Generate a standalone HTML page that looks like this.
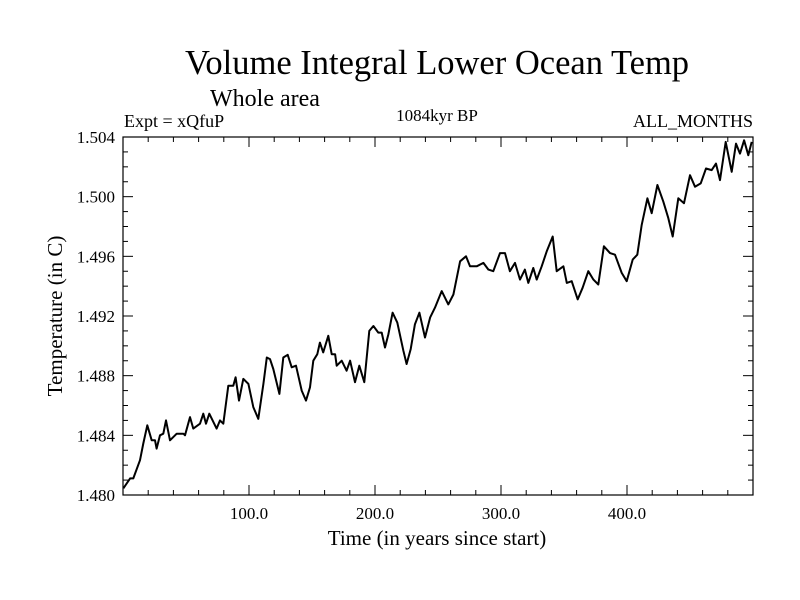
<!DOCTYPE html>
<html><head><meta charset="utf-8"><style>
body{margin:0;background:#fff}
svg{display:block;font-family:"Liberation Serif",serif}
</style></head><body>
<svg id="chart" width="800" height="600" viewBox="0 0 800 600">
<text x="437" y="74" font-size="34.5" text-anchor="middle">Volume Integral Lower Ocean Temp</text>
<text x="265" y="106" font-size="24" text-anchor="middle">Whole area</text>
<text x="124" y="127" font-size="18">Expt = xQfuP</text>
<text x="437" y="121" font-size="17" text-anchor="middle">1084kyr BP</text>
<text x="753" y="127" font-size="18" text-anchor="end">ALL_MONTHS</text>
<text x="437" y="545" font-size="21" text-anchor="middle">Time (in years since start)</text>
<text transform="translate(62,316) rotate(-90)" font-size="21" text-anchor="middle">Temperature (in C)</text>
<g id="axes"></g>
<path id="line" fill="none" stroke="#000" stroke-width="2" stroke-linejoin="round"/>
<rect x="123" y="137" width="630" height="358" fill="none" stroke="#000" stroke-width="1.2"/>
</svg>
<script>
const years=[0.3,5.6,8.2,13.5,16.1,19.3,22.8,25.4,26.7,29.4,32,34.1,37.3,42.6,47.9,49.2,53.2,55.8,61.1,63.7,65.9,68.5,74.3,77,79.6,83.6,87.5,89.4,92.1,95.5,99.5,103.4,107.4,111.4,114.1,116.7,119.3,124.1,127.2,130.7,133.9,137.3,141.8,145.2,148.4,151,154.2,156.3,158.9,162.9,165.6,168.3,169.6,173.6,177.5,180.2,184.1,187.5,191.5,195.5,198.7,202.6,205.3,207.9,210.6,214,217.7,222.5,225.1,228.3,231.7,235.2,239.7,243.7,247.6,252.9,258.2,262.2,267.5,272.2,275.4,280.7,286,290,293.9,299.2,303.2,307.1,311.1,315.1,319,321.7,325.6,328.3,332.3,336.3,341,344.2,349.5,352.2,356.1,360.9,364.8,369.3,373.3,377.2,381.7,386.5,390.5,395.8,399.8,404.5,408.2,411.7,416.2,419.6,424.1,428.8,432.8,436.3,440.7,445.2,450,454,458.5,462.7,467.2,470.6,473.8,478.3,483.1,486.5,489.7,492.9,496.3,499];
const temps=[1.48045,1.48111,1.48111,1.48233,1.48345,1.48467,1.48367,1.48367,1.48311,1.484,1.48411,1.485,1.48367,1.48411,1.48411,1.484,1.48522,1.48445,1.48478,1.48545,1.48478,1.48545,1.48445,1.485,1.48478,1.48733,1.48733,1.48789,1.48633,1.48778,1.48745,1.48589,1.48511,1.48745,1.48922,1.48911,1.48845,1.48678,1.48922,1.4894,1.48856,1.48867,1.487,1.48633,1.48722,1.489,1.48944,1.49022,1.48956,1.49067,1.48944,1.48944,1.48867,1.489,1.48833,1.489,1.48756,1.48867,1.48756,1.491,1.49133,1.49089,1.49089,1.48989,1.49078,1.49222,1.49156,1.48967,1.48878,1.48978,1.49144,1.49222,1.49056,1.49189,1.49256,1.49367,1.49278,1.49344,1.49567,1.496,1.49533,1.49533,1.49556,1.49511,1.495,1.49622,1.49622,1.495,1.49556,1.49444,1.49511,1.49422,1.49522,1.49444,1.49533,1.49633,1.49733,1.495,1.49533,1.49422,1.49433,1.49311,1.49389,1.495,1.49444,1.49411,1.49667,1.49622,1.49611,1.49489,1.49433,1.49578,1.49611,1.49811,1.49989,1.49889,1.50078,1.49967,1.49856,1.49733,1.49989,1.49956,1.50144,1.50067,1.50089,1.50189,1.50178,1.50222,1.50111,1.50367,1.50167,1.50356,1.50289,1.50378,1.50278,1.50367];
const xTicks=[100,200,300,400];
const xTickLabels=["100.0","200.0","300.0","400.0"];
const yTicks=[1.480,1.484,1.488,1.492,1.496,1.500,1.504];
const yTickLabels=["1.480","1.484","1.488","1.492","1.496","1.500","1.504"];
const X0=123,X1=753,Y0=495,Y1=137;
function xs(v){return X0+(v-0)/500*(X1-X0);}
function ys(v){return Y0-(v-1.480)/0.024*(Y0-Y1);}
const NS="http://www.w3.org/2000/svg";
const ax=document.getElementById('axes');
function ln(x1,y1,x2,y2,name){const l=document.createElementNS(NS,'line');l.setAttribute('x1',x1);l.setAttribute('y1',y1);l.setAttribute('x2',x2);l.setAttribute('y2',y2);l.setAttribute('stroke','#000');l.setAttribute('stroke-width','1');


ax.appendChild(l);}
function tx(x,y,s,anchor,name){const t=document.createElementNS(NS,'text');t.setAttribute('x',x);t.setAttribute('y',y);t.setAttribute('font-size','17');t.setAttribute('text-anchor',anchor);t.textContent=s;


ax.appendChild(t);}
for(let v=20;v<500;v+=20){const x=xs(v);const major=v%100===0;const L=major?10:5;
ln(x,Y0,x,Y0-L,'x-tick');ln(x,Y1,x,Y1+L,'x-tick-top');}
xTicks.forEach((v,i)=>tx(xs(v),519,xTickLabels[i],'middle','x-tick-label'));
for(let k=1;k<24;k++){const v=1.480+k*0.001;const y=ys(v);const major=k%4===0;const L=major?10:5;
ln(X0,y,X0+L,y,'y-tick');ln(X1,y,X1-L,y,'y-tick-right');}
yTicks.forEach((v,i)=>tx(115,ys(v)+6,yTickLabels[i],'end','y-tick-label'));
let d='';years.forEach((v,i)=>{d+=(i?'L':'M')+xs(v).toFixed(1)+','+ys(temps[i]).toFixed(1);});
document.getElementById('line').setAttribute('d',d);
</script>
</body></html>
